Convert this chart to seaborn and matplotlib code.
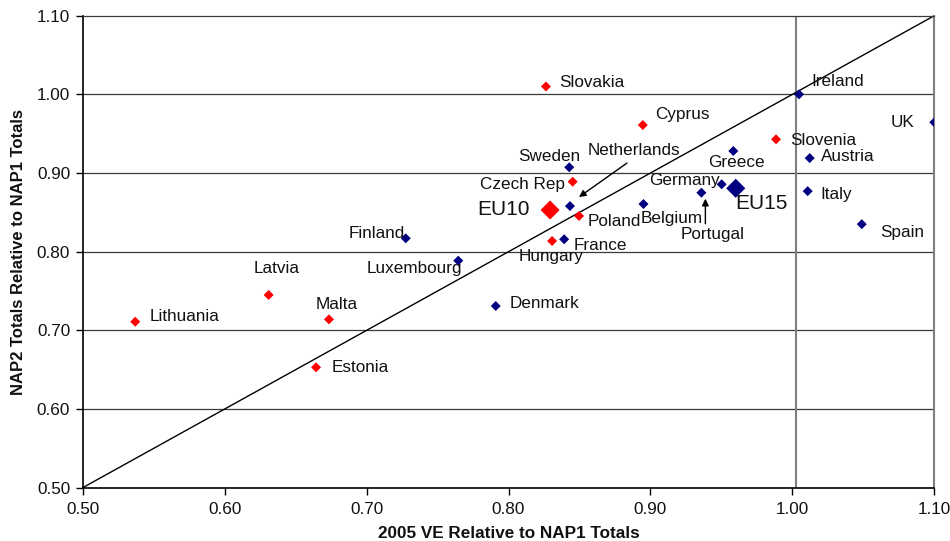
import matplotlib
matplotlib.use("Agg")
import matplotlib.pyplot as plt
import seaborn as sns
import pandas as pd
from matplotlib.ticker import FormatStrFormatter

# ---- data ----
countries = ["Lithuania", "Latvia", "Malta", "Estonia", "Slovakia", "Cyprus",
             "Czech Rep", "Poland", "Hungary", "Slovenia",
             "Finland", "Luxembourg", "Denmark", "Sweden", "Netherlands", "France",
             "Belgium", "Greece", "Germany", "Portugal", "Ireland", "UK",
             "Austria", "Italy", "Spain"]
ve_2005 = [0.537, 0.631, 0.6735, 0.6644, 0.8264, 0.8946,
           0.8452, 0.8497, 0.8307, 0.9885,
           0.7276, 0.7646, 0.791, 0.8428, 0.8433, 0.8392,
           0.8951, 0.9584, 0.9502, 0.9359, 1.0047, 1.100,
           1.0122, 1.0108, 1.0489]
nap2 = [0.711, 0.745, 0.714, 0.653, 1.010, 0.961,
        0.889, 0.8454, 0.8136, 0.9429,
        0.817, 0.7886, 0.731, 0.9073, 0.858, 0.8158,
        0.8606, 0.928, 0.8857, 0.875, 1.000, 0.9645,
        0.919, 0.877, 0.835]
group = ["EU10"] * 10 + ["EU15"] * 15

agg_names = ["EU10", "EU15"]
agg_ve = [0.8293, 0.9601]
agg_nap2 = [0.853, 0.8806]

x_ticks = [0.50, 0.60, 0.70, 0.80, 0.90, 1.00, 1.10]
y_ticks = [0.50, 0.60, 0.70, 0.80, 0.90, 1.00, 1.10]
x_label = "2005 VE Relative to NAP1 Totals"
y_label = "NAP2 Totals Relative to NAP1 Totals"

# ---- layout / style (label offsets in pixels: dx, dy, ha) ----
label_pos = {
    "Lithuania": (14, 5, "left"), "Latvia": (8, 26, "center"),
    "Malta": (8, 15, "center"), "Estonia": (16, 0, "left"),
    "Slovakia": (13, 4, "left"), "Cyprus": (12, 11, "left"),
    "Czech Rep": (-8, -3, "right"), "Poland": (9, -6, "left"),
    "Hungary": (-1, -15, "center"), "Slovenia": (14, -1, "left"),
    "Finland": (-1, 5, "right"), "Luxembourg": (4, -8, "right"),
    "Denmark": (14, 2, "left"), "Sweden": (-20, 11, "center"),
    "Netherlands": (18, 56, "left"), "France": (9, -6, "left"),
    "Belgium": (-3, -14, "left"), "Greece": (3, -11, "center"),
    "Germany": (-2, 4, "right"), "Portugal": (11, -42, "center"),
    "Ireland": (12, 13, "left"), "UK": (-20, 0, "right"),
    "Austria": (11, 2, "left"), "Italy": (13, -3, "left"),
    "Spain": (18, -8, "left"),
}
agg_pos = {"EU10": (-20, 1, "right"), "EU15": (0, -15, "left")}
palette = {"EU10": "#FF0000", "EU15": "#000080"}

sns.set_style("white")
plt.rcParams["font.family"] = ["Liberation Sans", "DejaVu Sans"]

fig = plt.figure(figsize=(9.5, 5.41), dpi=100)
ax = fig.add_axes([82.7 / 950, 1 - 487.7 / 541, (934.3 - 82.7) / 950, (487.7 - 15.7) / 541])

df = pd.DataFrame({"country": countries, "ve": ve_2005, "nap2": nap2, "group": group})
agg = pd.DataFrame({"country": agg_names, "ve": agg_ve, "nap2": agg_nap2, "group": agg_names})

ax.set_xlim(x_ticks[0], x_ticks[-1])
ax.set_ylim(y_ticks[0], y_ticks[-1])

# reference lines
for yv in y_ticks[1:-1]:
    ax.axhline(yv, color="#3a3a3a", lw=0.9, zorder=1)
ax.axvline(1.0023, color="#808080", lw=1.5, zorder=1)
ax.plot([x_ticks[0], x_ticks[-1]], [y_ticks[0], y_ticks[-1]], color="black", lw=1.0, zorder=2,
        clip_on=False)

sns.scatterplot(data=df, x="ve", y="nap2", hue="group", palette=palette, marker="D",
                s=26, edgecolor="none", legend=False, ax=ax, zorder=3)
sns.scatterplot(data=agg, x="ve", y="nap2", hue="group", palette=palette, marker="D",
                s=95, edgecolor="none", legend=False, ax=ax, zorder=3)

for c, xv, yv in zip(countries, ve_2005, nap2):
    dx, dy, ha = label_pos[c]
    ax.annotate(c, (xv, yv), xytext=(dx, dy), textcoords="offset pixels",
                ha=ha, va="center", fontsize=12.3, color="#111111", zorder=4)
for c, xv, yv in zip(agg_names, agg_ve, agg_nap2):
    dx, dy, ha = agg_pos[c]
    ax.annotate(c, (xv, yv), xytext=(dx, dy), textcoords="offset pixels",
                ha=ha, va="center", fontsize=15, color="#111111", zorder=4)

# pointer arrows (Netherlands, Portugal) in pixel offsets from their points
def px(name):
    i = countries.index(name)
    return ax.transData.transform((ve_2005[i], nap2[i]))

arrows = {"Netherlands": ((57, 43), (9, 9)), "Portugal": ((4, -31), (4, -6))}
for name, (start, end) in arrows.items():
    p = px(name)
    ax.annotate("", xy=(p[0] + end[0], p[1] + end[1]), xycoords="figure pixels",
                xytext=(p[0] + start[0], p[1] + start[1]), textcoords="figure pixels",
                arrowprops=dict(arrowstyle="-|>", color="black", lw=1.0,
                                shrinkA=0, shrinkB=0, mutation_scale=10))

ax.set_xticks(x_ticks)
ax.set_yticks(y_ticks)
ax.xaxis.set_major_formatter(FormatStrFormatter("%.2f"))
ax.yaxis.set_major_formatter(FormatStrFormatter("%.2f"))
ax.tick_params(axis="both", direction="out", length=5, width=1, color="black",
               labelsize=12.3, labelcolor="#111111", bottom=True, left=True)
ax.tick_params(axis="x", pad=5)
ax.tick_params(axis="y", pad=4)

for s in ["left", "bottom"]:
    ax.spines[s].set_color("black")
    ax.spines[s].set_linewidth(1.2)
ax.spines["top"].set_color("#3a3a3a")
ax.spines["top"].set_linewidth(0.9)
ax.spines["right"].set_color("#808080")
ax.spines["right"].set_linewidth(1.5)

ax.set_xlabel(x_label, fontsize=12.3, fontweight="bold", labelpad=7, color="#111111")
ax.set_ylabel(y_label, fontsize=12, fontweight="bold", labelpad=8, color="#111111")

fig.savefig("out.png", dpi=100)
